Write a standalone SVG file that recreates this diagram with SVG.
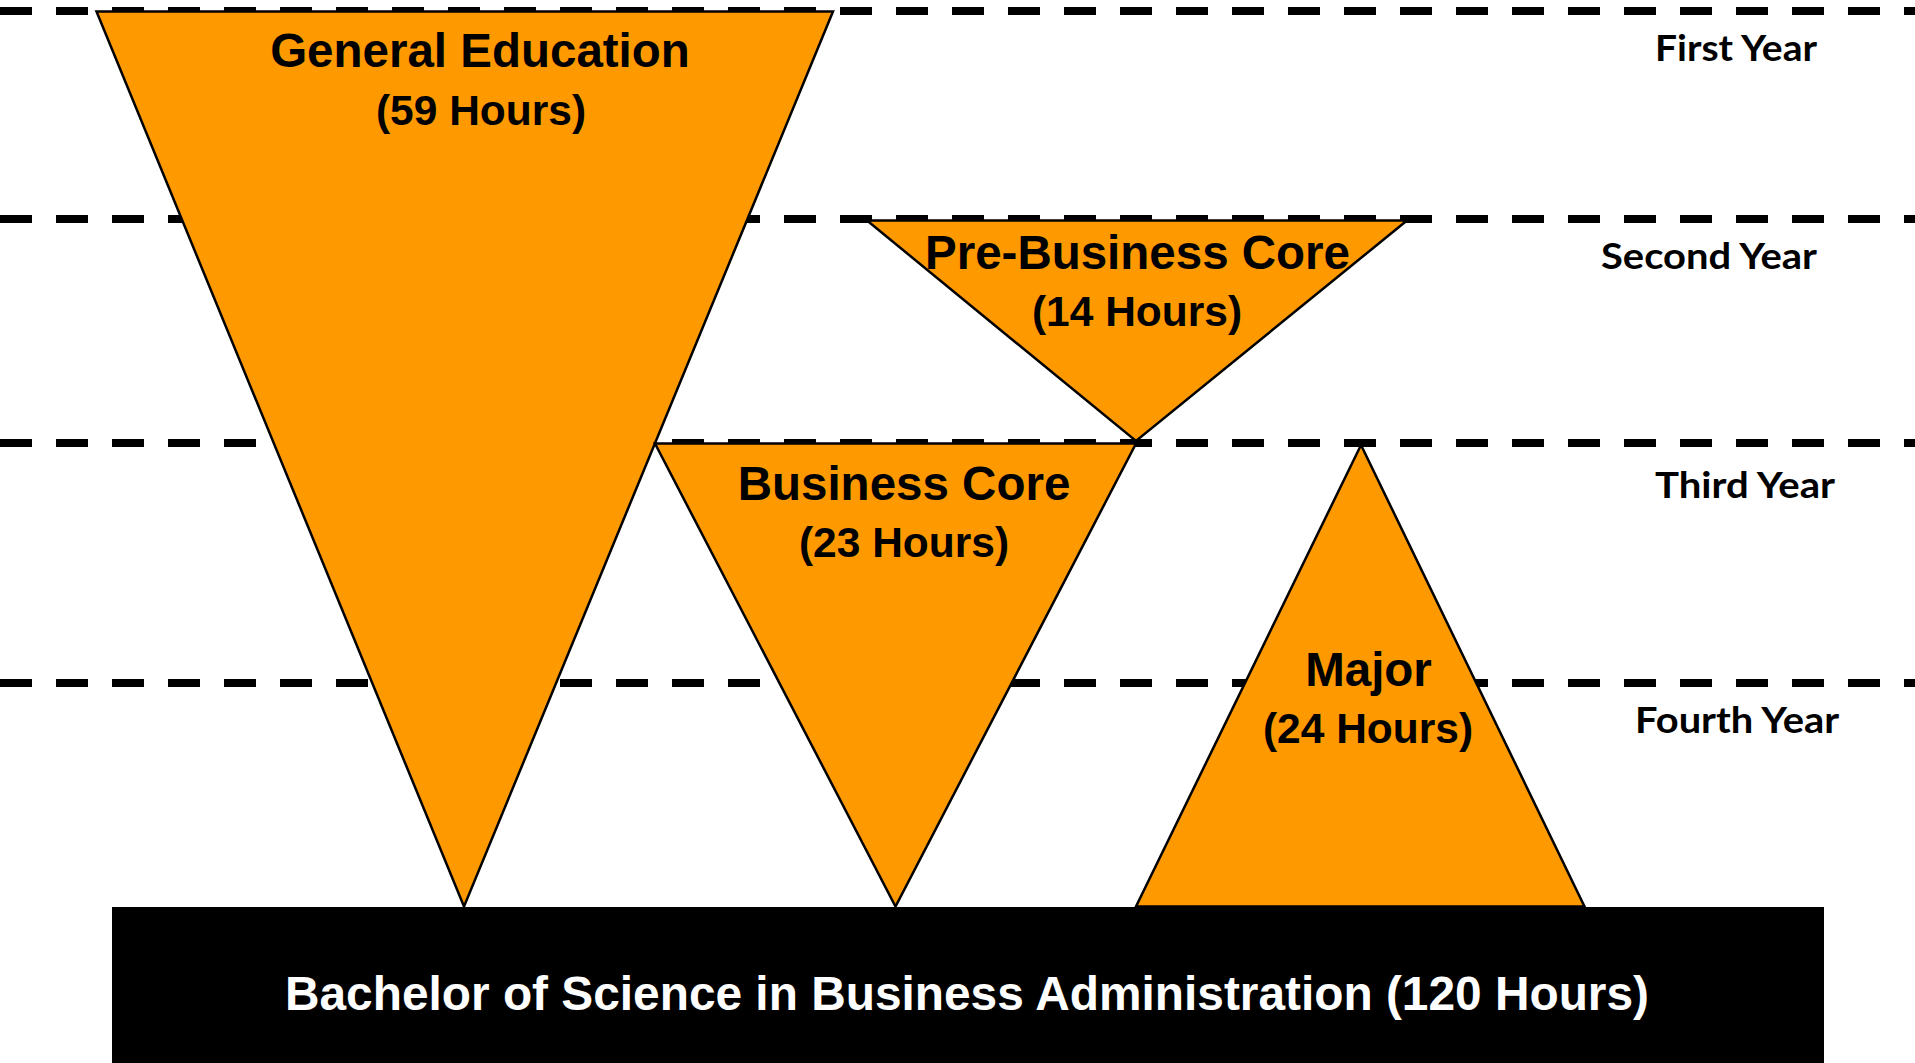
<svg xmlns="http://www.w3.org/2000/svg" width="1915" height="1063" viewBox="0 0 1915 1063">
  <style>
    .dash { stroke: #000; stroke-width: 8; stroke-dasharray: 32 24; fill: none; }
    .tri { fill: #FF9900; stroke: #000; stroke-width: 2.5; stroke-linejoin: miter; }
    .lbl { font-family: "Liberation Sans", Arial, sans-serif; font-weight: bold; font-size: 47.5px; fill: #000; text-anchor: middle; }
    .hrs { font-family: "Liberation Sans", Arial, sans-serif; font-weight: bold; font-size: 42.5px; fill: #000; text-anchor: middle; }
    .year { font-family: Lato, "Open Sans", sans-serif; font-weight: bold; font-size: 37px; fill: #000; }
    .base { font-family: "Liberation Sans", Arial, sans-serif; font-weight: bold; font-size: 47.5px; fill: #fff; text-anchor: middle; }
  </style>
  <rect x="0" y="0" width="1915" height="1063" fill="#fff"/>
  <g id="year-lines">
    <line class="dash" x1="0" y1="11" x2="1915" y2="11"/>
    <line class="dash" x1="0" y1="219" x2="1915" y2="219"/>
    <line class="dash" x1="0" y1="443" x2="1915" y2="443"/>
    <line class="dash" x1="0" y1="683" x2="1915" y2="683"/>
  </g>
  <g id="general-education">
    <polygon class="tri" points="96.5,11.5 833,11.5 464,906.5"/>
    <text class="lbl" x="480" y="67">General Education</text>
    <text class="hrs" x="481" y="125">(59 Hours)</text>
  </g>
  <g id="pre-business-core">
    <polygon class="tri" points="867,220.5 1407,220.5 1136,441"/>
    <text class="lbl" x="1137.5" y="268.5">Pre-Business Core</text>
    <text class="hrs" x="1137" y="326">(14 Hours)</text>
  </g>
  <g id="business-core">
    <polygon class="tri" points="655,443.5 1136,443.5 895.5,906.5"/>
    <text class="lbl" x="904" y="500">Business Core</text>
    <text class="hrs" x="904" y="557">(23 Hours)</text>
  </g>
  <g id="major">
    <polygon class="tri" points="1361,445 1584.5,906.5 1136,906.5"/>
    <text class="lbl" x="1368.5" y="685.5">Major</text>
    <text class="hrs" x="1368" y="742.5">(24 Hours)</text>
  </g>
  <g id="degree">
    <rect x="112" y="907" width="1712" height="156" fill="#000"/>
    <text class="base" x="967" y="1010" textLength="1364" lengthAdjust="spacingAndGlyphs">Bachelor of Science in Business Administration (120 Hours)</text>
  </g>
  <g id="year-labels">
    <text class="year" x="1655" y="61" textLength="162" lengthAdjust="spacingAndGlyphs">First Year</text>
    <text class="year" x="1601" y="268.5" textLength="216" lengthAdjust="spacingAndGlyphs">Second Year</text>
    <text class="year" x="1655" y="497.5" textLength="180" lengthAdjust="spacingAndGlyphs">Third Year</text>
    <text class="year" x="1635" y="732.5" textLength="204" lengthAdjust="spacingAndGlyphs">Fourth Year</text>
  </g>
</svg>
